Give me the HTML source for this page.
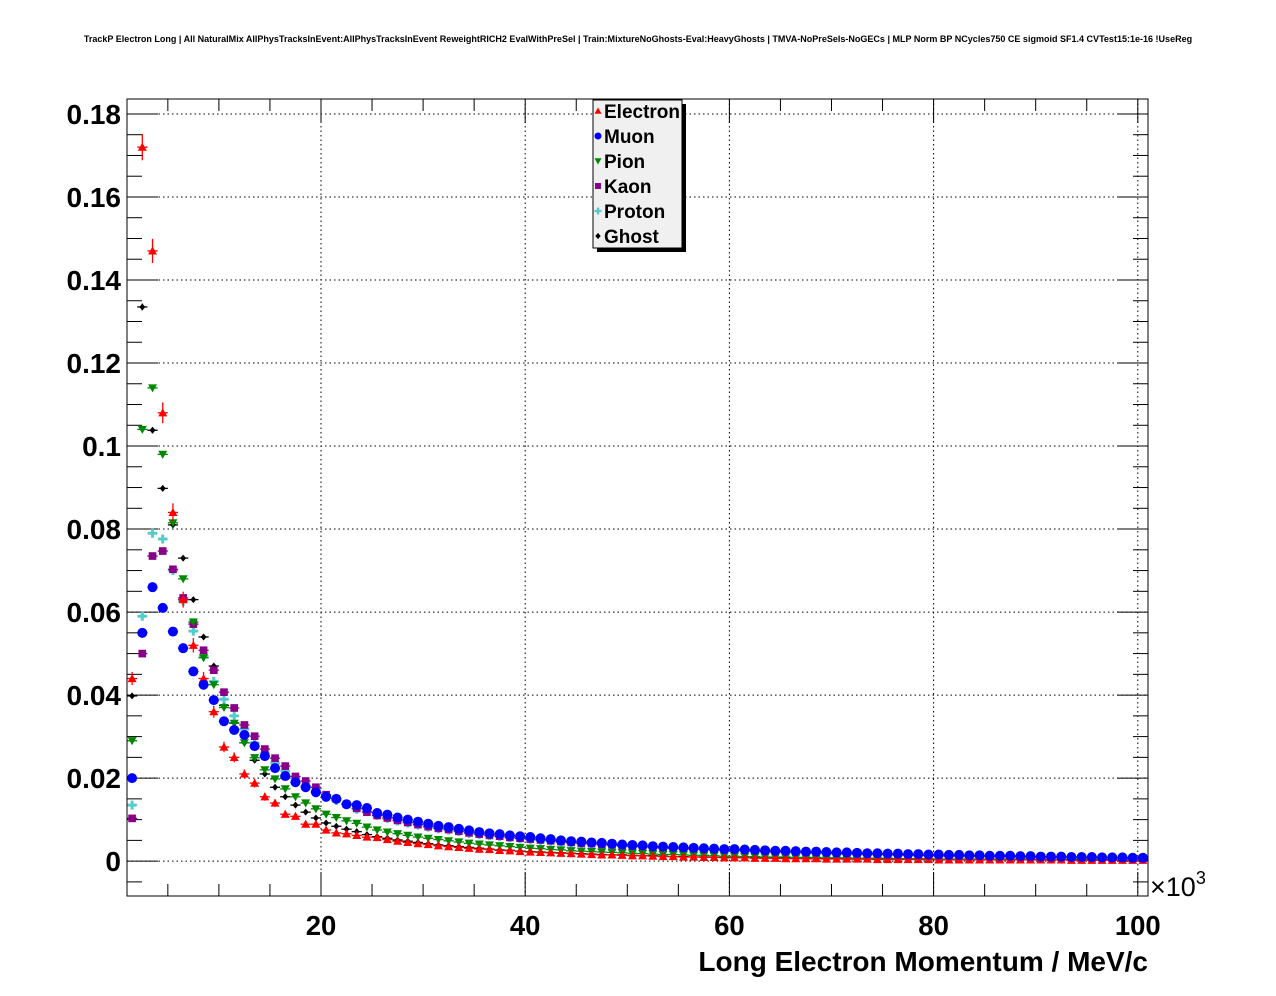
<!DOCTYPE html>
<html><head><meta charset="utf-8"><style>body{margin:0;background:#fff}svg{display:block;font-family:"Liberation Sans",sans-serif}</style></head>
<body>
<svg id="c" width="1276" height="996">
<rect width="1276" height="996" fill="#fff"/>
<text x="638" y="42" font-size="9.03" font-weight="bold" text-anchor="middle">TrackP Electron Long | All NaturalMix AllPhysTracksInEvent:AllPhysTracksInEvent ReweightRICH2 EvalWithPreSel | Train:MixtureNoGhosts-Eval:HeavyGhosts | TMVA-NoPreSels-NoGECs | MLP Norm BP NCycles750 CE sigmoid SF1.4 CVTest15:1e-16 !UseReg</text>
<g id="grid"></g>
<g id="axes"></g>
<g id="marks"></g>
<rect x="127" y="99" width="1021" height="797" fill="none" stroke="#000" stroke-width="1"/>
<text x="1148" y="971" font-size="28" font-weight="bold" text-anchor="end">Long Electron Momentum / MeV/c</text>
<text x="1150" y="896" font-size="27">×10<tspan font-size="18" dy="-12">3</tspan></text>
<g>
<rect x="597" y="104" width="89" height="148" fill="#000"/>
<rect x="593" y="100" width="89" height="148" fill="#f0f0f0" stroke="#000"/>
<g id="leg"></g>
</g>
</svg>
<script>
const xCenters=[];for(let i=0;i<100;i++)xCenters.push(1.5+i);
const yTicks=[0,0.02,0.04,0.06,0.08,0.1,0.12,0.14,0.16,0.18];
const yTickLabels=["0","0.02","0.04","0.06","0.08","0.1","0.12","0.14","0.16","0.18"];
const xTicks=[20,40,60,80,100];
const xTickLabels=["20","40","60","80","100"];
const seriesNames=["Electron","Muon","Pion","Kaon","Proton","Ghost"];
const electron=[0.044,0.172,0.147,0.108,0.084,0.063,0.052,0.044,0.036,0.0275,0.025,0.021,0.0188,0.0155,0.014,0.0113,0.0108,0.0089,0.0089,0.0075,0.0068,0.0066,0.0062,0.0058,0.0057,0.0052,0.0048,0.0045,0.0042,0.0040,0.0037,0.0035,0.0033,0.0031,0.0029,0.0028,0.0026,0.0025,0.0023,0.0022,
0.0021,0.0020,0.0019,0.0018,0.0017,0.0016,0.0015,0.0015,0.0014,0.0013,0.0013,0.0012,0.0011,0.0011,0.0010,0.0010,0.0009,0.0009,0.0008,0.0008,
0.0008,0.0007,0.0007,0.0007,0.0006,0.0006,0.0006,0.0006,0.0005,0.0005,0.0005,0.0005,0.0005,0.0004,0.0004,0.0004,0.0004,0.0004,0.0004,0.0003,
0.0003,0.0003,0.0003,0.0003,0.0003,0.0003,0.0003,0.0003,0.0003,0.0003,0.0003,0.0003,0.0002,0.0002,0.0002,0.0002,0.0002,0.0002,0.0002,0.0002];
const muon=[0.020,0.055,0.066,0.061,0.0553,0.0513,0.0457,0.0425,0.0388,0.0337,0.0316,0.0304,0.0277,0.0253,0.0224,0.0205,0.019,0.0178,0.0166,0.0155,0.015,0.0137,0.0135,0.0128,0.0116,
0.0112,0.0105,0.0100,0.0095,0.0090,0.0085,0.0082,0.0078,0.0074,0.0070,0.0067,0.0065,0.0062,0.0060,0.0058,
0.0055,0.0053,0.0050,0.0048,0.0047,0.0045,0.0044,0.0042,0.0040,0.0039,
0.0038,0.0036,0.0035,0.0034,0.0033,0.0032,0.0031,0.0030,0.0029,0.0029,
0.0028,0.0027,0.0026,0.0025,0.0025,0.0024,0.0023,0.0023,0.0022,0.0021,
0.0021,0.0020,0.0019,0.0019,0.0018,0.0018,0.0017,0.0017,0.0016,0.0016,
0.0015,0.0015,0.0014,0.0014,0.0013,0.0013,0.0013,0.0012,0.0012,0.0011,
0.0011,0.0011,0.0010,0.0010,0.0010,0.0009,0.0009,0.0009,0.0008,0.0008];
const pion=[0.029,0.104,0.114,0.098,0.0815,0.068,0.0576,0.049,0.0425,0.037,0.0332,0.0285,0.0249,0.022,0.0198,0.0174,0.0155,0.014,0.0126,0.0113,0.0105,0.0097,0.0091,0.0082,0.0075,
0.0070,0.0066,0.0062,0.0058,0.0055,0.0052,0.0049,0.0046,0.0043,0.0041,0.0039,0.0037,0.0035,0.0033,0.0031,
0.0030,0.0028,0.0027,0.0025,0.0024,0.0023,0.0022,0.0021,0.0020,0.0019,
0.0018,0.0017,0.0016,0.0016,0.0015,0.0014,0.0014,0.0013,0.0012,0.0012,
0.0011,0.0011,0.0010,0.0010,0.0010,0.0009,0.0009,0.0009,0.0008,0.0008,
0.0008,0.0007,0.0007,0.0007,0.0007,0.0006,0.0006,0.0006,0.0006,0.0005,
0.0005,0.0005,0.0005,0.0005,0.0005,0.0005,0.0005,0.0005,0.0005,0.0005,
0.0004,0.0004,0.0004,0.0004,0.0004,0.0004,0.0004,0.0004,0.0004,0.0004];
const kaon=[0.0103,0.050,0.0735,0.0747,0.0703,0.0634,0.0571,0.0508,0.046,0.0407,0.0369,0.0328,0.0301,0.027,0.0248,0.0229,0.0204,0.0193,0.0178,0.016,0.015,0.0137,0.0127,0.0118,0.011,
0.0104,0.0098,0.0093,0.0088,0.0083,0.0079,0.0076,0.0072,0.0068,0.0065,0.0062,0.0060,0.0057,0.0055,0.0053,
0.0051,0.0049,0.0047,0.0045,0.0043,0.0042,0.0040,0.0039,0.0037,0.0036,
0.0035,0.0033,0.0032,0.0031,0.0030,0.0029,0.0028,0.0027,0.0026,0.0026,
0.0025,0.0024,0.0023,0.0022,0.0022,0.0021,0.0020,0.0020,0.0019,0.0018,
0.0018,0.0017,0.0017,0.0016,0.0016,0.0015,0.0015,0.0014,0.0014,0.0013,
0.0013,0.0013,0.0012,0.0012,0.0011,0.0011,0.0011,0.0010,0.0010,0.0010,
0.0009,0.0009,0.0009,0.0008,0.0008,0.0008,0.0008,0.0007,0.0007,0.0007];
const proton=[0.0135,0.059,0.079,0.0776,0.070,0.0626,0.0554,0.0494,0.0433,0.039,0.035,0.0318,0.0285,0.026,0.0236,0.0217,0.020,0.0182,0.0171,0.0154,0.0146,0.0137,0.0125,0.0119,0.011,
0.0103,0.0097,0.0092,0.0087,0.0082,0.0078,0.0075,0.0071,0.0067,0.0064,0.0061,0.0059,0.0056,0.0054,0.0052,
0.0050,0.0048,0.0046,0.0044,0.0042,0.0041,0.0039,0.0038,0.0036,0.0035,
0.0034,0.0032,0.0031,0.0030,0.0029,0.0028,0.0027,0.0026,0.0025,0.0025,
0.0024,0.0023,0.0022,0.0021,0.0021,0.0020,0.0019,0.0019,0.0018,0.0017,
0.0017,0.0016,0.0016,0.0015,0.0015,0.0014,0.0014,0.0013,0.0013,0.0012,
0.0012,0.0012,0.0011,0.0011,0.0010,0.0010,0.0010,0.0009,0.0009,0.0009,
0.0008,0.0008,0.0008,0.0007,0.0007,0.0007,0.0007,0.0006,0.0006,0.0006];
const ghost=[0.0398,0.1335,0.1038,0.0898,0.081,0.073,0.063,0.054,0.047,0.0375,0.0333,0.0285,0.0243,0.021,0.0178,0.0155,0.0135,0.0118,0.0104,0.0092,0.0084,0.0077,0.0071,0.0064,0.0059,
0.0055,0.0051,0.0048,0.0045,0.0042,0.0039,0.0037,0.0035,0.0033,0.0031,0.0029,0.0027,0.0026,0.0024,0.0023,
0.0022,0.0021,0.0020,0.0019,0.0018,0.0017,0.0016,0.0015,0.0015,0.0014,
0.0013,0.0013,0.0012,0.0011,0.0011,0.0010,0.0010,0.0009,0.0009,0.0009,
0.0008,0.0008,0.0008,0.0007,0.0007,0.0007,0.0006,0.0006,0.0006,0.0006,
0.0005,0.0005,0.0005,0.0005,0.0005,0.0005,0.0005,0.0004,0.0004,0.0004,
0.0004,0.0004,0.0004,0.0004,0.0004,0.0004,0.0004,0.0004,0.0004,0.0004,
0.0003,0.0003,0.0003,0.0003,0.0003,0.0003,0.0003,0.0003,0.0003,0.0003];

const NS='http://www.w3.org/2000/svg';
const X0=127,X1=1148,Y0=99,Y1=896, xmin=1,xmax=101, ymin=-0.0084, ymax=0.1836;
function sx(v){return X0+(v-xmin)/(xmax-xmin)*(X1-X0);}
function sy(v){return Y1-(v-ymin)/(ymax-ymin)*(Y1-Y0);}
function mk(tag,at,parent){const e=document.createElementNS(NS,tag);for(const k in at)e.setAttribute(k,at[k]);parent.appendChild(e);return e;}
const grid=document.getElementById('grid'),axes=document.getElementById('axes'),marks=document.getElementById('marks');
yTicks.forEach((t,i)=>{const y=sy(t);
 let g=mk('line',{x1:X0,x2:X1,y1:y,y2:y,stroke:'#000','stroke-dasharray':'1.5,3','stroke-width':1},grid);
 
 mk('line',{x1:X0,x2:X0+31,y1:y,y2:y,stroke:'#000'},axes);
 mk('line',{x1:X1,x2:X1-31,y1:y,y2:y,stroke:'#000'},axes);
 let tx=mk('text',{x:121,y:y+10,'font-size':28,'font-weight':'bold','text-anchor':'end'},axes);tx.textContent=yTickLabels[i];
 
});
for(let v=-0.005;v<0.184;v+=0.005){if(Math.abs(Math.round(v/0.02)*0.02-v)<1e-6)continue;const y=sy(v);if(y<Y0||y>Y1)continue;
 mk('line',{x1:X0,x2:X0+15,y1:y,y2:y,stroke:'#000'},axes);mk('line',{x1:X1,x2:X1-15,y1:y,y2:y,stroke:'#000'},axes);}
xTicks.forEach((t,i)=>{const x=sx(t);
 let g=mk('line',{x1:x,x2:x,y1:Y0,y2:Y1,stroke:'#000','stroke-dasharray':'1.5,3','stroke-width':1},grid);
 
 let tx=mk('text',{x:x,y:935,'font-size':27.5,'font-weight':'bold','text-anchor':'middle'},axes);tx.textContent=xTickLabels[i];
 
});
for(let v=5;v<=100;v+=5){const x=sx(v);const L=(v%20==0)?24:12;
 mk('line',{x1:x,x2:x,y1:Y1,y2:Y1-L,stroke:'#000'},axes);mk('line',{x1:x,x2:x,y1:Y0,y2:Y0+L,stroke:'#000'},axes);}
const colors=['#ff0000','#0000ff','#008800','#880088','#55cccc','#000000'];
const shapes=['tri','circ','tridown','sq','cross','diam'];
function marker(shape,x,y,c,p,s){
 if(shape=='tri')return mk('polygon',{points:`${x-s},${y+s*0.8} ${x+s},${y+s*0.8} ${x},${y-s}`,fill:c},p);
 if(shape=='tridown')return mk('polygon',{points:`${x-s},${y-s*0.8} ${x+s},${y-s*0.8} ${x},${y+s}`,fill:c},p);
 if(shape=='circ')return mk('circle',{cx:x,cy:y,r:s,fill:c},p);
 if(shape=='sq')return mk('rect',{x:x-s*0.85,y:y-s*0.85,width:s*1.7,height:s*1.7,fill:c},p);
 if(shape=='cross')return mk('path',{d:`M${x-s},${y-s/3}h${s*2/3}v${-s*2/3}h${s*2/3}v${s*2/3}h${s*2/3}v${s*2/3}h${-s*2/3}v${s*2/3}h${-s*2/3}v${-s*2/3}h${-s*2/3}z`,fill:c},p);
 return mk('polygon',{points:`${x-s*0.6},${y} ${x},${y-s*0.7} ${x+s*0.6},${y} ${x},${y+s*0.7}`,fill:c},p);
}
const allSeries=[electron,muon,pion,kaon,proton,ghost];
const drawOrder=[5,4,3,2,0,1];
drawOrder.forEach(si=>{const vals=allSeries[si],c=colors[si];
 const g=mk('g',{},marks);
 vals.forEach((v,i)=>{const x=sx(xCenters[i]),y=sy(v);const hw=(sx(1)-sx(0))/2;
  const ev=(si==0?0.0017:0.0005)*Math.sqrt(v/0.05);const dy=Math.max(1,sy(0)-sy(ev));
  mk('line',{x1:x-hw,x2:x+hw,y1:y,y2:y,stroke:c,'stroke-width':1.3},g);
  mk('line',{x1:x,x2:x,y1:y-dy,y2:y+dy,stroke:c,'stroke-width':1.3},g);
  const m=marker(shapes[si],x,y,c,g,si==5?5:si==1?5:4.5);
  
 });
});
const leg=document.getElementById('leg');
seriesNames.forEach((n,i)=>{const y=111+i*25;
 marker(shapes[i],598,y,colors[i],leg,i==5?4.5:3.5);
 const t=mk('text',{x:604,y:y+7,'font-size':19,'font-weight':'bold'},leg);t.textContent=n;
 
});
</script>
</body></html>
